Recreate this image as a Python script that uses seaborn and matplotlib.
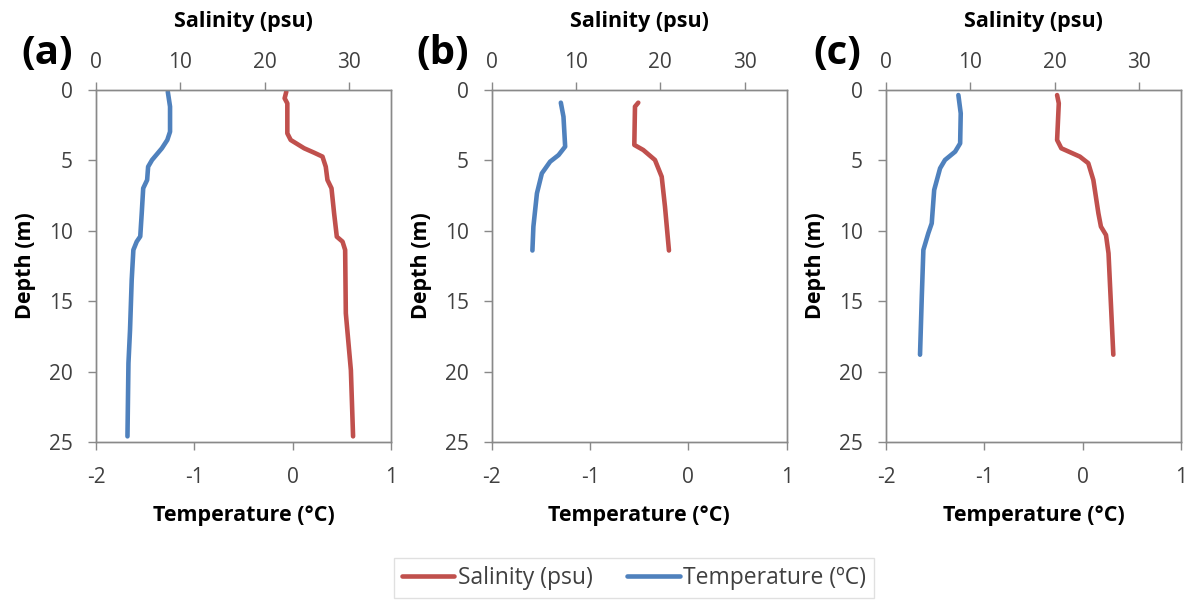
import numpy as np
import pandas as pd
import matplotlib
matplotlib.use("Agg")
import matplotlib.pyplot as plt
import seaborn as sns
from matplotlib.lines import Line2D

sns.set_theme(style="white")
plt.rcParams['font.family'] = ['Open Sans', 'DejaVu Sans']

# ---- Data ----
# Panel (a)
a_temp_depth = [0.12, 1.18, 2.96, 3.55, 4.14, 4.97, 5.45, 6.39, 6.98, 8.76, 10.4, 10.77, 11.36, 13.5, 17.05, 19.4, 24.6]
a_temp = [-1.27, -1.247, -1.247, -1.275, -1.33, -1.43, -1.47, -1.48, -1.52, -1.535, -1.55, -1.586, -1.62, -1.637, -1.654, -1.67, -1.68]
a_sal_depth = [0.12, 0.59, 0.95, 3.08, 3.55, 4.14, 4.45, 4.73, 5.45, 6.39, 6.98, 8.76, 10.42, 10.77, 11.36, 15.86, 19.9, 24.6]
a_sal = [22.58, 22.38, 22.7, 22.7, 23.1, 24.7, 25.87, 26.87, 27.26, 27.46, 27.94, 28.25, 28.57, 29.25, 29.56, 29.64, 30.24, 30.5]

# Panel (b)
b_temp_depth = [0.9, 1.9, 4.02, 4.62, 5.09, 5.92, 7.34, 9.7, 11.4]
b_temp = [-1.297, -1.27, -1.253, -1.32, -1.406, -1.49, -1.54, -1.576, -1.586]
b_sal_depth = [0.9, 1.18, 3.9, 4.26, 4.97, 6.16, 8.29, 11.4]
b_sal = [17.39, 17.0, 16.92, 17.98, 19.37, 20.17, 20.56, 21.03]

# Panel (c)
c_temp_depth = [0.36, 1.66, 3.79, 4.38, 4.97, 5.56, 7.1, 9.47, 10.18, 11.36, 14.68, 18.8]
c_temp = [-1.264, -1.24, -1.246, -1.297, -1.40, -1.45, -1.51, -1.535, -1.57, -1.62, -1.636, -1.654]
c_sal_depth = [0.36, 0.95, 3.55, 4.14, 4.73, 5.2, 6.39, 8.76, 9.7, 10.3, 11.6, 18.8]
c_sal = [20.3, 20.5, 20.3, 20.8, 23.0, 24.0, 24.6, 25.2, 25.5, 26.1, 26.4, 26.97]

panel_labels = ["(a)", "(b)", "(c)"]
temp_ticks = [-2, -1, 0, 1]
sal_ticks = [0, 10, 20, 30]
depth_ticks = [0, 5, 10, 15, 20, 25]

panels = [
    (a_temp, a_temp_depth, a_sal, a_sal_depth),
    (b_temp, b_temp_depth, b_sal, b_sal_depth),
    (c_temp, c_temp_depth, c_sal, c_sal_depth),
]

RED = "#C0504D"
BLUE = "#4F81BD"
GREY = "#898989"
TXT = "#404040"

fig = plt.figure(figsize=(11.98, 6.0), dpi=100)
lefts = [96 / 1198, 491.7 / 1198, 886 / 1198]
W = 295 / 1198
B = (600 - 442) / 600
H = 352 / 600

for i, (t, td, s, sd) in enumerate(panels):
    ax = fig.add_axes([lefts[i], B, W, H])
    ax2 = ax.twiny()
    sns.lineplot(x=t, y=td, sort=False, estimator=None, ax=ax, color=BLUE, linewidth=3.3)
    sns.lineplot(x=s, y=sd, sort=False, estimator=None, ax=ax2, color=RED, linewidth=3.3)
    ax.set_xlim(-2, 1)
    ax2.set_xlim(0, 35)
    ax.set_ylim(25, 0)
    ax.set_xticks(temp_ticks)
    ax.set_xticklabels([str(v) for v in temp_ticks])
    ax2.set_xticks(sal_ticks)
    ax.set_yticks(depth_ticks)
    for a in (ax, ax2):
        for sp in a.spines.values():
            sp.set_color(GREY)
            sp.set_linewidth(1.0)
            sp.set_visible(True)
        a.tick_params(colors=GREY, labelcolor=TXT, labelsize=15, length=5.5, width=1, direction="out")
    ax.tick_params(axis="x", bottom=True, pad=12.5)
    ax.tick_params(axis="y", left=True, pad=11)
    ax2.tick_params(axis="x", top=True, pad=7)
    ax.set_xlabel("Temperature (°C)", fontsize=15.5, fontweight="bold", color="black", labelpad=12)
    ax.set_ylabel("Depth (m)", fontsize=15.5, fontweight="bold", color="black", labelpad=9.5)
    ax2.set_xlabel("Salinity (psu)", fontsize=15.5, fontweight="bold", color="black", labelpad=18)
    fig.text(lefts[i] - 49 / 1198, 1 - 53 / 600, panel_labels[i], fontsize=29,
             fontweight="bold", ha="center", va="center", color="black")

handles = [Line2D([0], [0], color=RED, linewidth=3.3),
           Line2D([0], [0], color=BLUE, linewidth=3.3)]
leg = fig.legend(handles, ["Salinity (psu)", "Temperature (ºC)"], loc="center",
                 bbox_to_anchor=(634 / 1198, 1 - 578 / 600), ncol=2, frameon=True,
                 fancybox=False, fontsize=16.5, handlelength=2.3, columnspacing=1.5,
                 handletextpad=0.15, borderpad=0.35)
leg.get_frame().set_edgecolor("#D9D9D9")
leg.get_frame().set_linewidth(1.0)
for txt in leg.get_texts():
    txt.set_color(TXT)

fig.savefig("out.png", dpi=100)
